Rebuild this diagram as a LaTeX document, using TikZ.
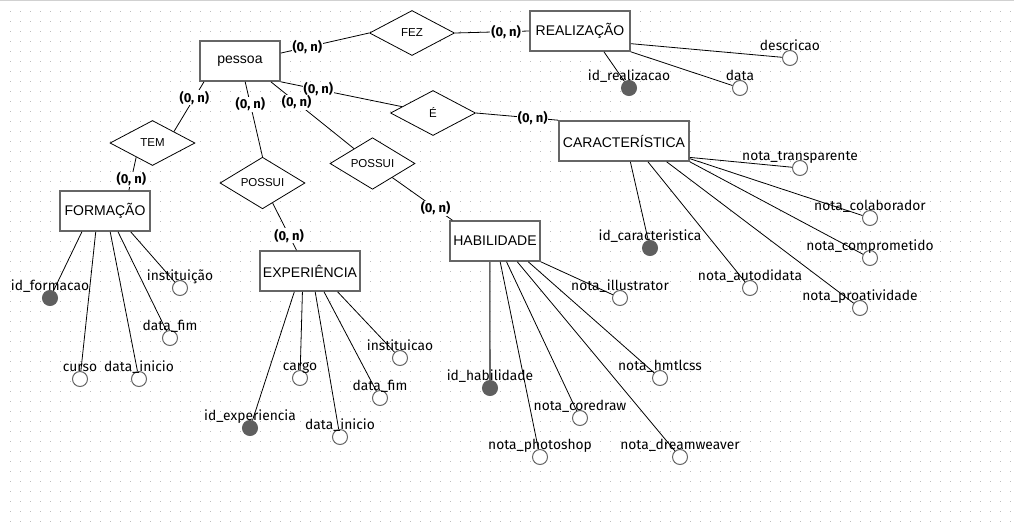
\documentclass[tikz,border=0pt]{standalone}
\usepackage{fontspec}
\setmainfont{Fira Sans}
\newfontfamily\entfont{Liberation Sans}
\usetikzlibrary{calc,shapes.geometric}
\definecolor{boxgray}{HTML}{666666}
\definecolor{keygray}{HTML}{5F5F5F}
\definecolor{dotgray}{HTML}{BDBDBD}
\tikzset{
  ent/.style={draw=boxgray,line width=1.6pt,fill=white,minimum width=#1,minimum height=40pt,inner sep=0pt,font=\entfont\fontsize{14}{16}\selectfont},
  ent/.default=90pt,
  rel/.style={diamond,draw,line width=0.8pt,fill=white,minimum width=85pt,minimum height=45pt,inner sep=0pt,font=\entfont\fontsize{11.5}{13}\selectfont},
  attr/.style={circle,draw=boxgray,line width=1pt,fill=white,minimum size=15pt,inner sep=0pt,label distance=6.5pt},
  key/.style={attr,fill=keygray,draw=keygray},
  lbl/.style={anchor=base,inner sep=0pt,font=\fontsize{13.8}{16}\selectfont},
  card/.style={fill=white,inner sep=1pt,font=\bfseries\fontsize{13}{15}\selectfont},
  ln/.style={draw=black,line width=0.8pt}
}
\begin{document}
\begin{tikzpicture}[x=1pt,y=-1pt]
\useasboundingbox (0,0) rectangle (1014,528);
\fill[white] (0,0) rectangle (1014,528);
% dotted page grid
\foreach \gx in {10,20,...,1010} {
  \foreach \gy in {11,21,...,521} {
    \fill[dotgray] (\gx,\gy) rectangle ++(1,1);
  }
}
\draw[dotgray!70,line width=1pt] (0,0.5) -- (1014,0.5);

% entities
\node[ent=80pt] (pessoa) at (240,61) {pessoa};
\node[ent=100pt] (realizacao) at (580,31) {REALIZAÇÃO};
\node[ent=130pt] (caracteristica) at (624,141) {CARACTERÍSTICA};
\node[ent] (formacao) at (105,211) {FORMAÇÃO};
\node[ent=100pt] (experiencia) at (310,271) {EXPERIÊNCIA};
\node[ent] (habilidade) at (495,241) {HABILIDADE};

% relationships
\node[rel] (fez) at (412,33) {FEZ};
\node[rel] (e) at (433,113) {É};
\node[rel] (tem) at (152.5,143) {TEM};
\node[rel] (possui1) at (262.5,183) {POSSUI};
\node[rel] (possui2) at (372.5,163.5) {POSSUI};

% links with cardinalities
\draw[ln] (pessoa.11) -- node[card,pos=0.3] {(0, n)} (fez.west);
\draw[ln] (realizacao.west) -- node[card,pos=0.31] {(0, n)} (fez.east);
\draw[ln] (pessoa.south east) -- node[card,pos=0.31] {(0, n)} (e);
\draw[ln] (caracteristica.north west) -- node[card,pos=0.31] {(0, n)} (e.east);
\draw[ln] (pessoa.-34) -- node[card,pos=0.31] {(0, n)} (possui2);
\draw[ln] (habilidade.154) -- node[card,pos=0.28] {(0, n)} (possui2);
\draw[ln] (pessoa.-76) -- node[card,pos=0.3] {(0, n)} (possui1.north);
\draw[ln] (experiencia.123) -- node[card,pos=0.31] {(0, n)} (possui1);
\draw[ln] (pessoa.-150) -- node[card,pos=0.32] {(0, n)} (tem.north east);
\draw[ln] (formacao.41) -- node[card,pos=0.33] {(0, n)} (tem.-139);

% REALIZACAO attributes
\node[key,label={[lbl]90:id\_realizacao}] (idreal) at (629,88) {};
\node[attr,label={[lbl]90:data}] (datareal) at (740,88) {};
\node[attr,label={[lbl]90:descricao}] (descricao) at (790,58) {};
\draw[ln] (realizacao.-41) -- (idreal);
\draw[ln] (realizacao.south east) -- (datareal);
\draw[ln] (realizacao.-14) -- (descricao);

% CARACTERISTICA attributes
\node[key,label={[lbl]90:id\_caracteristica}] (idcar) at (650,248) {};
\node[attr,label={[lbl]90:nota\_transparente}] (transp) at (800,168) {};
\node[attr,label={[lbl]90:nota\_colaborador}] (colab) at (870,218) {};
\node[attr,label={[lbl]90:nota\_comprometido}] (compr) at (870,258) {};
\node[attr,label={[lbl]90:nota\_autodidata}] (autod) at (750,288) {};
\node[attr,label={[lbl]90:nota\_proatividade}] (proat) at (860,308) {};
\draw[ln] (caracteristica.-73) -- (idcar);
\draw[ln] (caracteristica.-14) -- (transp);
\draw[ln] (caracteristica.-15.5) -- (colab);
\draw[ln] (caracteristica.south east) -- (compr);
\draw[ln] (caracteristica.-41) -- (autod);
\draw[ln] (caracteristica.-26) -- (proat);

% FORMACAO attributes
\node[key,label={[lbl]90:id\_formacao}] (idform) at (50,298) {};
\node[attr,label={[lbl]90:curso}] (curso) at (80,379) {};
\node[attr,label={[lbl]90:data\_inicio}] (iniform) at (139,379) {};
\node[attr,label={[lbl]90:data\_fim}] (fimform) at (170,338) {};
\node[attr,label={[lbl]90:instituição}] (instform) at (180,288) {};
\draw[ln] (formacao.-138) -- (idform);
\draw[ln] (formacao.-114) -- (curso);
\draw[ln] (formacao.-76) -- (iniform);
\draw[ln] (formacao.-58) -- (fimform);
\draw[ln] (formacao.-39) -- (instform);

% EXPERIENCIA attributes
\node[key,label={[lbl]90:id\_experiencia}] (idexp) at (250,428) {};
\node[attr,label={[lbl]90:cargo}] (cargo) at (300,378) {};
\node[attr,label={[lbl]90:data\_inicio}] (iniexp) at (340,437) {};
\node[attr,label={[lbl]90:data\_fim}] (fimexp) at (380,398) {};
\node[attr,label={[lbl]90:instituicao}] (instexp) at (400,358) {};
\draw[ln] (experiencia.-127) -- (idexp);
\draw[ln] (experiencia.-110) -- (cargo);
\draw[ln] (experiencia.-76) -- (iniexp);
\draw[ln] (experiencia.-56) -- (fimexp);
\draw[ln] (experiencia.-37) -- (instexp);

% HABILIDADE attributes
\node[key,label={[lbl]90:id\_habilidade}] (idhab) at (490,388) {};
\node[attr,label={[lbl]90:nota\_photoshop}] (photo) at (540,457) {};
\node[attr,label={[lbl]90:nota\_coredraw}] (corel) at (580,418) {};
\node[attr,label={[lbl]90:nota\_dreamweaver}] (dream) at (680,457) {};
\node[attr,label={[lbl]90:nota\_hmtlcss}] (html) at (660,378) {};
\node[attr,label={[lbl]90:nota\_illustrator}] (illus) at (620,298) {};
\draw[draw=boxgray,line width=1.6pt] (habilidade.-104) -- (idhab);
\draw[ln] (habilidade.-76) -- (photo);
\draw[ln] (habilidade.-61) -- (corel);
\draw[ln] (habilidade.-43) -- (dream);
\draw[ln] (habilidade.-32) -- (html);
\draw[ln] (habilidade.south east) -- (illus);
\end{tikzpicture}
\end{document}
